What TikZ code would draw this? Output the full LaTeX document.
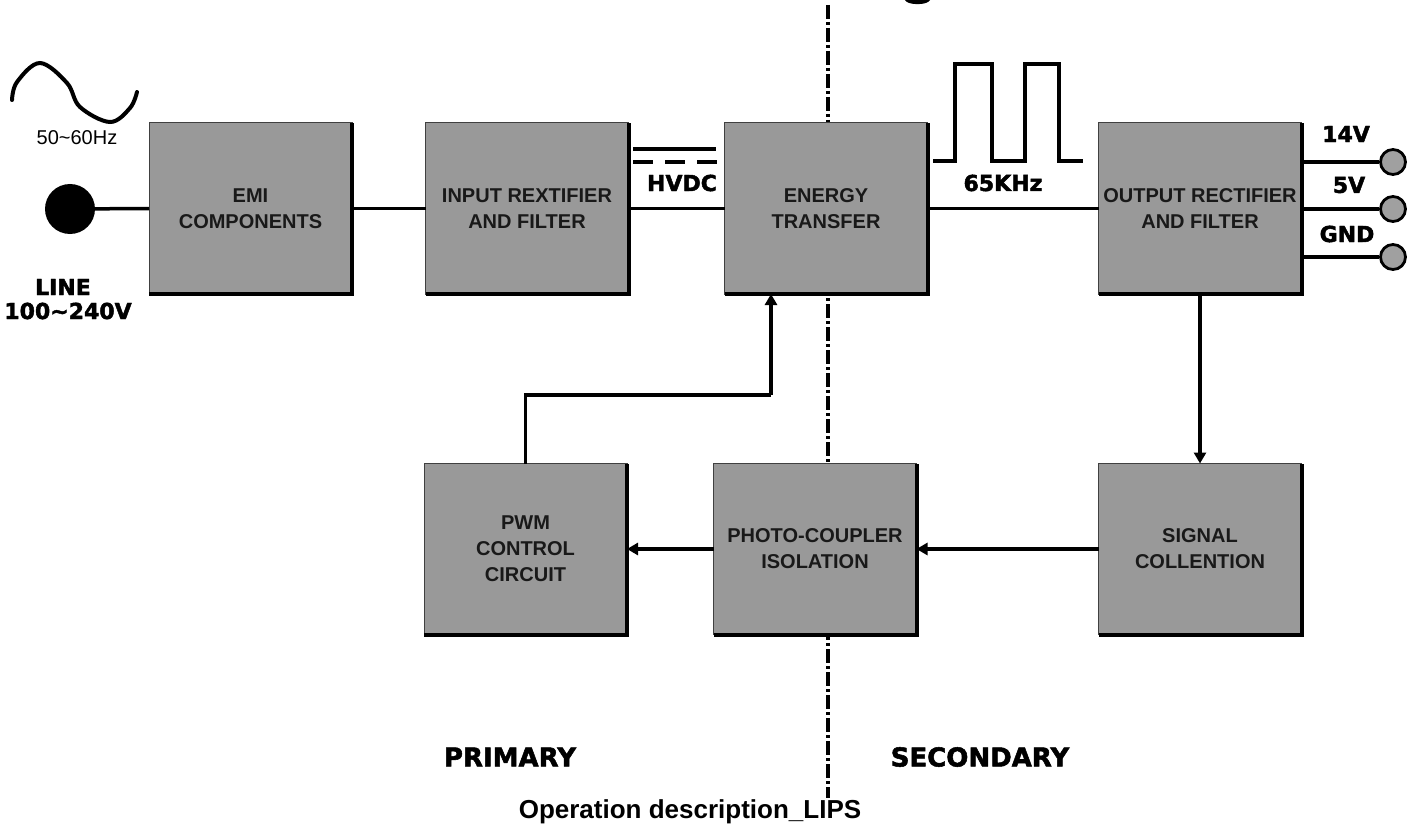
\documentclass[tikz,border=0pt]{standalone}
\usepackage{fontspec}
\setmainfont{Liberation Sans}
\newfontfamily\heavyfont{DejaVu Sans}[BoldFeatures={FakeBold=2}]
\usetikzlibrary{arrows.meta}
\definecolor{boxgray}{HTML}{999999}
\definecolor{termgray}{HTML}{A0A0A0}
\begin{document}
\begin{tikzpicture}[x=1pt,y=-1pt,
  blk/.style={draw=black!75, line width=1pt, fill=boxgray, minimum width=203pt, minimum height=171pt,
    inner sep=0pt, outer sep=0pt, align=center, font=\fontsize{20}{26}\selectfont\bfseries, text=black!90},
  shadowline/.style={line width=4pt, line join=miter},
  conn/.style={line width=3.5pt},
  arr/.style={line width=3.5pt, -{Triangle[length=11pt,width=12pt]}},
  heavy/.style={font=\heavyfont\bfseries\fontsize{22}{24}\selectfont, inner sep=0pt},
  bigheavy/.style={font=\heavyfont\bfseries\fontsize{26}{28}\selectfont, inner sep=0pt},
  term/.style={circle, draw=black, line width=2.8pt, fill=termgray, minimum size=25pt, inner sep=0pt},
  wave/.style={line width=4pt}
]
\fill[white] (0,0) rectangle (1417,832);
\useasboundingbox (0,0) rectangle (1417,832);

% title fragment
\fill (905,0) .. controls (907,5.5) and (928,5.5) .. (930,0) -- cycle;

% isolation barrier
\coordinate (bartop) at (828,5);
\coordinate (barbot) at (828,798);
\draw[line width=3.8pt, dash pattern=on 14pt off 3pt on 3pt off 3pt] (bartop) -- (barbot);

% blocks
\node[blk] (emi) at (250.5,208.5) {EMI\\COMPONENTS};
\node[blk] (inp) at (527,208.5) {INPUT REXTIFIER\\AND FILTER};
\node[blk] (en)  at (826,208.5) {ENERGY\\TRANSFER};
\node[blk] (out) at (1200,208.5) {OUTPUT RECTIFIER\\AND FILTER};
\node[blk] (pwm) at (525.5,549) {PWM\\CONTROL\\CIRCUIT};
\node[blk] (pho) at (815,549) {PHOTO-COUPLER\\ISOLATION};
\node[blk] (sig) at (1200,549) {SIGNAL\\COLLENTION};
\foreach \b in {emi,inp,en,out,pwm,pho,sig}
  \draw[shadowline] (\b.south west) -- (\b.south east) -- (\b.north east);

% line input
\node[circle, fill=black, minimum size=50pt, inner sep=0pt] (dot) at (70,209) {};
\draw[conn] (dot) -- (emi.west);
\draw[wave, line cap=round] plot[smooth, tension=0.6] coordinates {(12,100) (17,82) (40,63) (67,83) (80,107) (110,122) (130,108) (137,92)};
\node[font=\fontsize{20}{22}\selectfont, inner sep=0pt] (hz) at (77,138) {50\textasciitilde 60Hz};
\node[heavy] (line) at (63,287) {LINE};
\node[heavy] (volt) at (68,311) {100\textasciitilde 240V};

% main chain
\draw[conn] (emi.east) -- (inp.west);
\draw[conn] (inp.east) -- (en.west);
\draw[conn] (en.east) -- (out.west);

% HVDC symbol
\coordinate (hv1) at (633,149);
\coordinate (hv2) at (716,149);
\coordinate (hv3) at (633,162);
\coordinate (hv4) at (717,162);
\draw[line width=4pt] (hv1) -- (hv2);
\draw[line width=4.5pt, dash pattern=on 20pt off 12pt] (hv3) -- (hv4);
\node[heavy] (hvdc) at (682,183) {HVDC};

% square wave
\draw[wave, line join=miter] (933,161) -- (955,161) -- (955,64) -- (992,64) -- (992,161) -- (1025,161)
  -- (1025,64) -- (1059,64) -- (1059,161) -- (1083,161);
\node[heavy] (khz) at (1003,183) {65KHz};

% outputs
\node[term] (t1) at (1393,162) {};
\node[term] (t2) at (1393,209) {};
\node[term] (t3) at (1393,257) {};
\draw[conn] (out.east |- t1) -- (t1);
\draw[conn] (out.east |- t2) -- (t2);
\draw[conn] (out.east |- t3) -- (t3);
\node[heavy] (v14) at (1346,134) {14V};
\node[heavy] (v5) at (1349,185) {5V};
\node[heavy] (gnd) at (1347,234) {GND};

% feedback loop
\draw[arr] (out.south) -- (sig.north);
\draw[arr] (sig.west) -- (pho.east);
\draw[arr] (pho.west) -- (pwm.east);
\coordinate (fb) at (771,395);
\draw[conn, line join=miter] (pwm.north) |- (fb);
\draw[arr] (fb) -- (fb |- en.south);

% labels
\node[bigheavy] (prim) at (510,757) {PRIMARY};
\node[bigheavy] (sec) at (980,757) {SECONDARY};
\node[font=\fontsize{26}{28}\selectfont\bfseries, inner sep=0pt] (cap) at (690,812) {Operation description\_LIPS};
\end{tikzpicture}
\end{document}
